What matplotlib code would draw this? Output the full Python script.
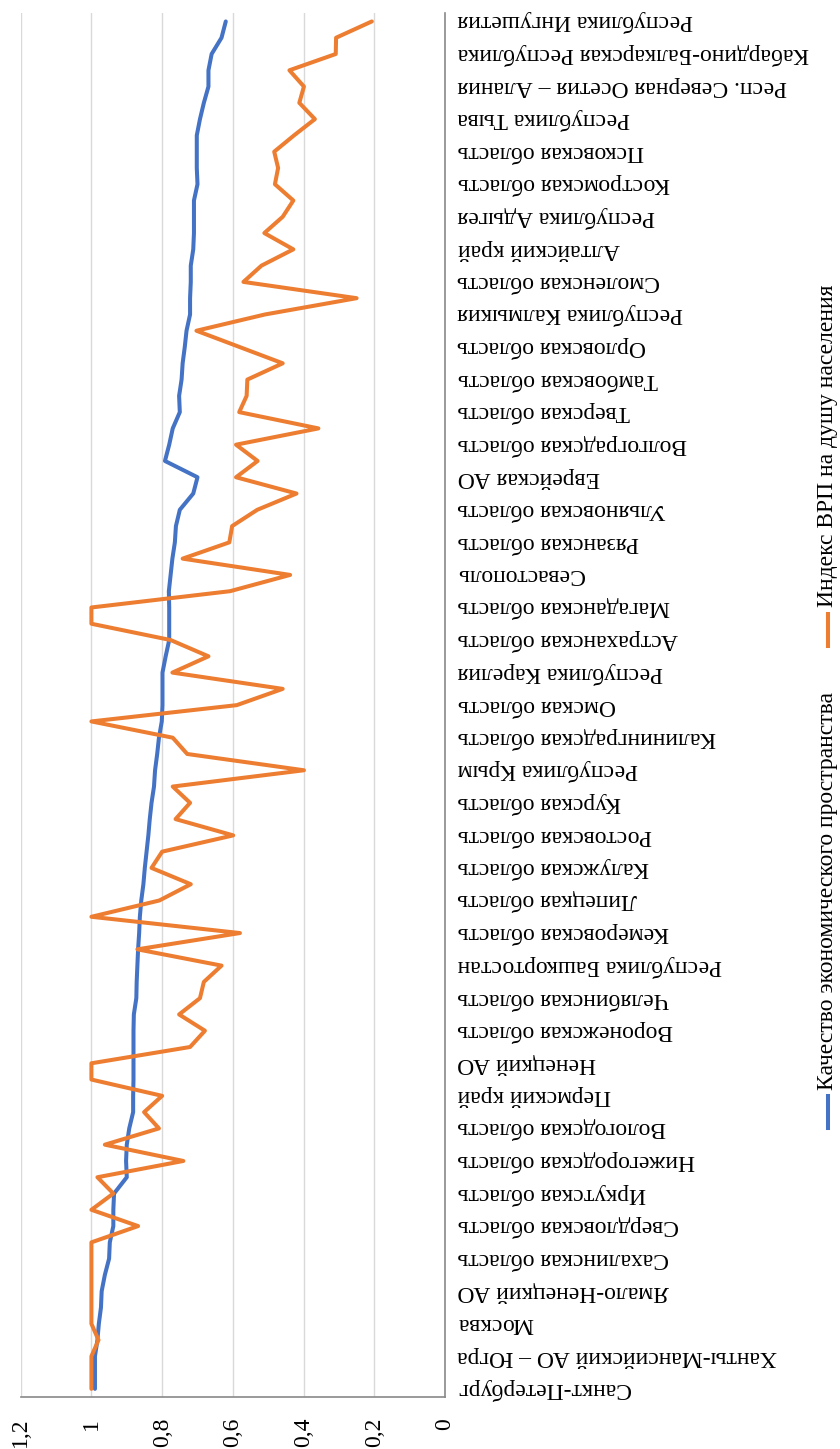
import matplotlib.pyplot as plt
from matplotlib.lines import Line2D

plt.rcParams['font.family'] = ['Liberation Serif', 'DejaVu Serif']

# every second region is labelled on the category axis (85 regions total)
regions = [
    'Санкт-Петербург', 'Ханты-Мансийский АО – Югра', 'Москва',
    'Ямало-Ненецкий АО', 'Сахалинская область', 'Свердловская область',
    'Иркутская область', 'Нижегородская область', 'Вологодская область',
    'Пермский край', 'Ненецкий АО', 'Воронежская область',
    'Челябинская область', 'Республика Башкортостан', 'Кемеровская область',
    'Липецкая область', 'Калужская область', 'Ростовская область',
    'Курская область', 'Республика Крым', 'Калининградская область',
    'Омская область', 'Республика Карелия', 'Астраханская область',
    'Магаданская область', 'Севастополь', 'Рязанская область',
    'Ульяновская область', 'Еврейская АО', 'Волгоградская область',
    'Тверская область', 'Тамбовская область', 'Орловская область',
    'Республика Калмыкия', 'Смоленская область', 'Алтайский край',
    'Республика Адыгея', 'Костромская область', 'Псковская область',
    'Республика Тыва', 'Респ. Северная Осетия – Алания',
    'Кабардино-Балкарская Республика', 'Республика Ингушетия',
]

quality = [
    0.990, 0.990, 0.990, 0.983, 0.979, 0.973, 0.971, 0.962, 0.950, 0.948,
    0.938, 0.938, 0.936, 0.900, 0.902, 0.900, 0.893, 0.882, 0.882, 0.881,
    0.881, 0.881, 0.881, 0.880, 0.873, 0.872, 0.870, 0.868, 0.865, 0.863,
    0.859, 0.853, 0.849, 0.844, 0.839, 0.835, 0.830, 0.823, 0.820, 0.814,
    0.809, 0.801, 0.799, 0.799, 0.799, 0.790, 0.780, 0.780, 0.780, 0.781,
    0.776, 0.771, 0.764, 0.761, 0.750, 0.712, 0.700, 0.792, 0.780, 0.770,
    0.750, 0.752, 0.745, 0.742, 0.736, 0.731, 0.721, 0.721, 0.719, 0.719,
    0.712, 0.710, 0.710, 0.710, 0.700, 0.702, 0.702, 0.702, 0.693, 0.682,
    0.669, 0.669, 0.660, 0.632, 0.620,
]

grp = [
    1.000, 1.000, 1.000, 0.980, 1.000, 1.000, 1.000, 1.000, 1.000, 1.000,
    0.868, 1.000, 0.938, 0.983, 0.740, 0.962, 0.809, 0.851, 0.800, 1.000,
    1.000, 0.721, 0.679, 0.752, 0.693, 0.682, 0.632, 0.870, 0.580, 1.000,
    0.808, 0.719, 0.830, 0.800, 0.599, 0.762, 0.721, 0.770, 0.399, 0.729,
    0.770, 1.000, 0.589, 0.459, 0.771, 0.669, 0.776, 1.000, 1.000, 0.608,
    0.438, 0.742, 0.610, 0.602, 0.531, 0.420, 0.591, 0.530, 0.591, 0.358,
    0.582, 0.561, 0.559, 0.459, 0.581, 0.703, 0.509, 0.250, 0.570, 0.519,
    0.429, 0.511, 0.459, 0.429, 0.481, 0.472, 0.483, 0.427, 0.368, 0.412,
    0.399, 0.440, 0.309, 0.308, 0.207,
]

value_ticks = [0, 0.2, 0.4, 0.6, 0.8, 1.0, 1.2]
value_labels = ['0', '0,2', '0,4', '0,6', '0,8', '1', '1,2']

series_names = ['Качество экономического пространства',
                'Индекс ВРП на душу населения']
colors = ['#4472C4', '#ED7D31']

W, H = 840, 1449
fig = plt.figure(figsize=(W / 100, H / 100), dpi=100)
# the whole chart is turned on its side: values run right-to-left
ax = fig.add_axes([20.7 / W, 1 - 1397 / H, (445 - 20.7) / W, (1397 - 13.3) / H])

idx = list(range(len(quality)))
ax.plot(quality, idx, color=colors[0], lw=2.9, solid_capstyle='round')
ax.plot(grp, idx, color=colors[1], lw=2.9, solid_capstyle='round')

ax.set_xlim(1.2, 0)
ax.set_ylim(-0.5, len(idx) - 0.5)

ax.set_xticks(value_ticks)
ax.set_xticklabels(value_labels, rotation=90, va='top', fontsize=17)
ax.tick_params(axis='x', length=0, pad=15)
ax.grid(axis='x', color='#d9d9d9', lw=1)
ax.set_axisbelow(True)

ax.yaxis.tick_right()
ax.set_yticks(idx[::2])
ax.set_yticklabels(regions, rotation=180, va='center', ha='left', fontsize=17)
ax.tick_params(axis='y', length=0, pad=9)

for s in ['top', 'left']:
    ax.spines[s].set_visible(False)
for s in ['right', 'bottom']:
    ax.spines[s].set_color('#898989')
    ax.spines[s].set_linewidth(1.2)

# legend drawn by hand, rotated with the rest
leg = [(1128, 1096, 1090), (646, 614, 607)]
for (y0, y1, yt), name, c in zip(leg, series_names, colors):
    fig.add_artist(Line2D([828 / W, 828 / W], [1 - y0 / H, 1 - y1 / H],
                          color=c, lw=2.9, transform=fig.transFigure))
    fig.text(828 / W, 1 - yt / H, name, rotation=90, ha='center',
             va='bottom', fontsize=17)

fig.savefig('out.png', dpi=100)
